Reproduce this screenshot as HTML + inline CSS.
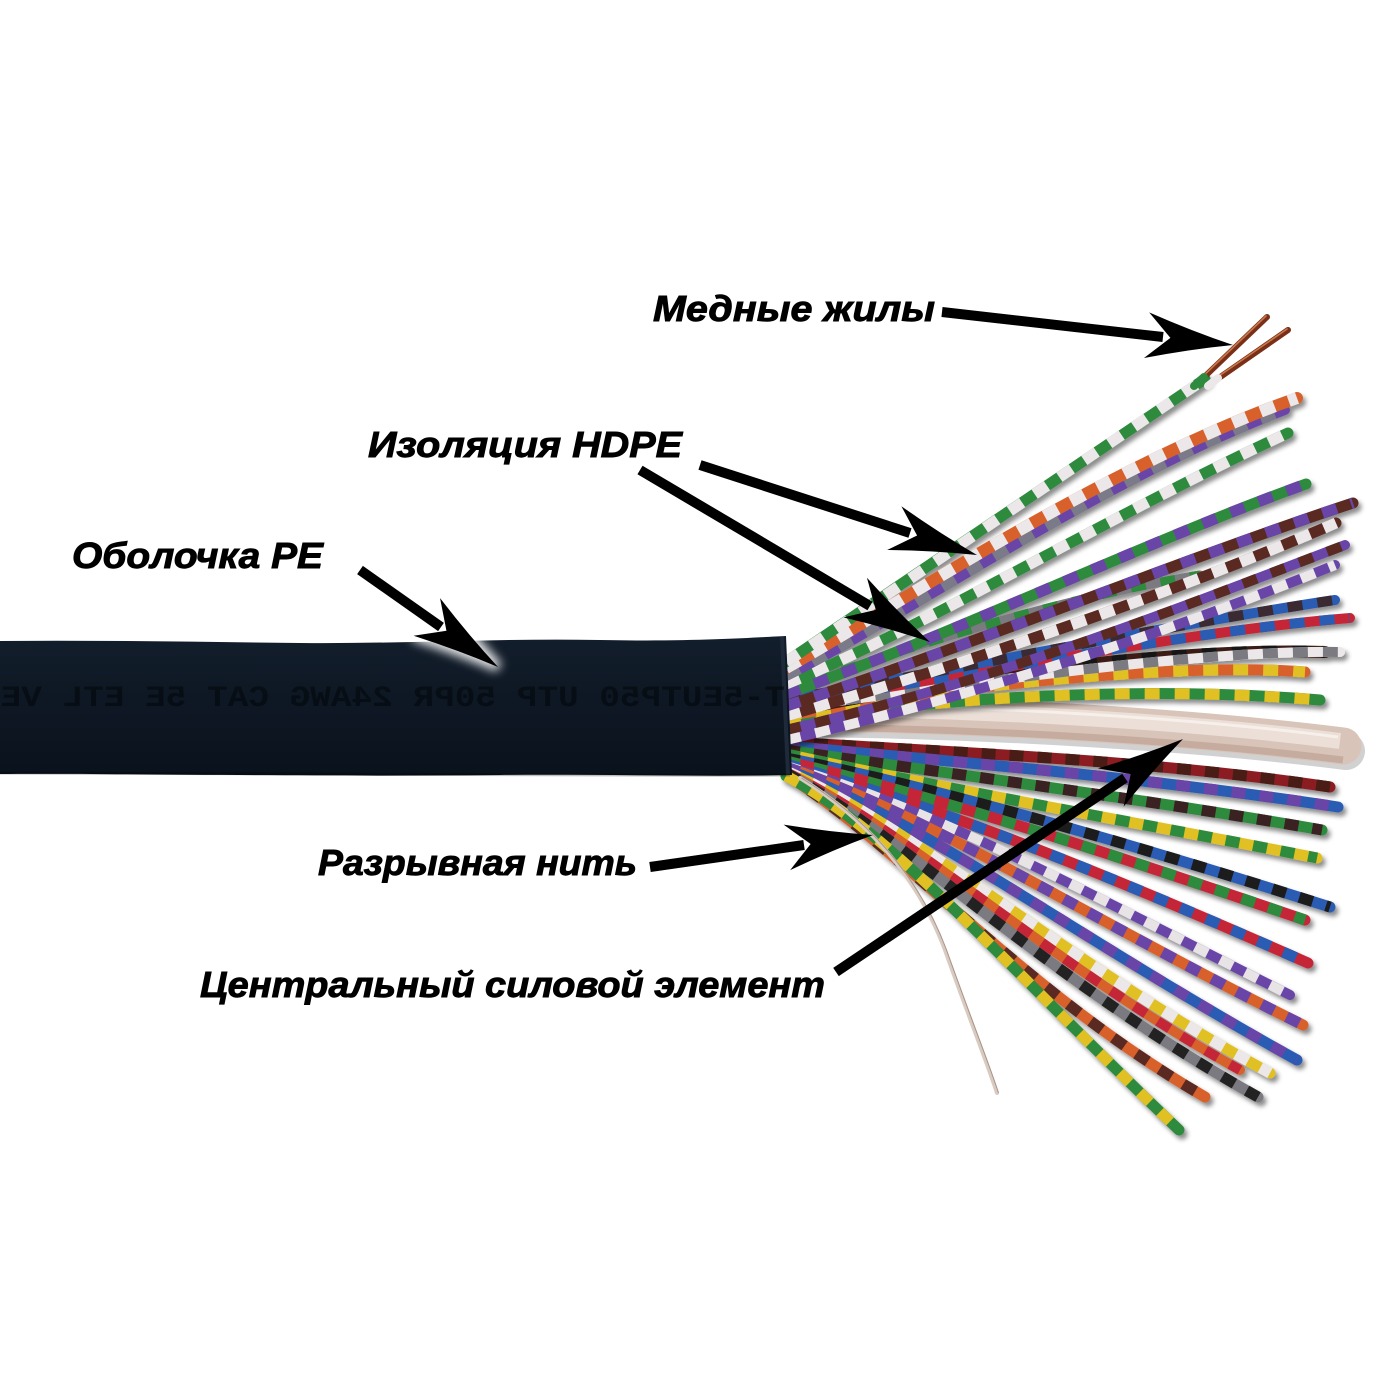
<!DOCTYPE html>
<html>
<head>
<meta charset="utf-8">
<style>
  html,body{margin:0;padding:0;background:#fff;}
  svg{display:block;}
  .lbl{font-family:"Liberation Sans",Arial,sans-serif;font-weight:bold;font-style:italic;font-size:36px;fill:#000;stroke:#000;stroke-width:0.9px;}
  .prn{font-family:"Liberation Mono",monospace;font-weight:bold;font-size:30px;fill:#020508;fill-opacity:.55;}
</style>
</head>
<body>
<svg width="1400" height="1400" viewBox="0 0 1400 1400" xmlns="http://www.w3.org/2000/svg">
<defs>
  <filter id="sh" x="-10%" y="-10%" width="120%" height="120%">
    <feDropShadow dx="3" dy="4" stdDeviation="2.5" flood-color="#000" flood-opacity=".45"/>
  </filter>
  <filter id="glow" x="-50%" y="-50%" width="200%" height="200%">
    <feGaussianBlur stdDeviation="5"/>
  </filter>
  <linearGradient id="jk" x1="0" y1="0" x2="0" y2="1">
    <stop offset="0" stop-color="#131e2c"/>
    <stop offset="0.35" stop-color="#0f1926"/>
    <stop offset="1" stop-color="#0a121c"/>
  </linearGradient>

  <!-- upper fan -->
  <path id="u1" d="M786,662 C880,600 1060,476 1205,379"/>
  <path id="u2" d="M786,668 C890,610 1100,468 1297,398"/>
  <path id="u3" d="M786,676 C900,620 1100,480 1285,410"/>
  <path id="u4" d="M786,684 C920,630 1120,510 1288,433"/>
  <path id="u5" d="M786,694 C940,640 1150,540 1306,484"/>
  <path id="u6" d="M786,706 C960,650 1180,560 1353,503"/>
  <path id="u7" d="M786,716 C980,660 1180,590 1336,523"/>
  <path id="u8" d="M786,730 C1000,680 1200,600 1345,545"/>
  <path id="u9" d="M786,740 C1000,690 1200,620 1335,565"/>
  <path id="u10" d="M786,700 C1000,660 1200,620 1335,600"/>
  <path id="u11" d="M786,704 C1000,670 1200,630 1350,618"/>
  <path id="u12" d="M786,708 C1000,680 1200,650 1340,652"/>
  <path id="u13" d="M786,712 C1000,668 1200,648 1325,652"/>
  <path id="u14" d="M786,716 C1000,678 1200,664 1305,672"/>
  <path id="u15" d="M786,722 C1000,688 1200,690 1320,700"/>
  <path id="u16" d="M786,690 C900,650 1050,600 1200,575"/>

  <!-- lower fan -->
  <path id="l1" d="M786,742 C950,752 1150,760 1330,787"/>
  <path id="l2" d="M786,746 C960,762 1150,778 1338,807"/>
  <path id="l3" d="M786,750 C960,775 1150,800 1322,830"/>
  <path id="l4" d="M786,754 C950,790 1150,825 1317,858"/>
  <path id="l5" d="M786,758 C950,790 1150,850 1330,907"/>
  <path id="l6" d="M786,761 C950,800 1130,860 1305,920"/>
  <path id="l7" d="M786,764 C950,810 1120,880 1308,963"/>
  <path id="l14" d="M786,766 C950,815 1100,900 1290,995"/>
  <path id="l8" d="M786,767 C940,820 1090,920 1303,1025"/>
  <path id="l9" d="M786,769 C930,825 1080,940 1297,1060"/>
  <path id="l10" d="M786,771 C920,830 1060,960 1270,1073"/>
  <path id="l15" d="M786,772 C915,835 1050,965 1240,1070"/>
  <path id="l11" d="M786,773 C910,840 1040,975 1258,1097"/>
  <path id="l12" d="M786,775 C900,845 1020,990 1205,1097"/>
  <path id="l13" d="M786,776 C890,830 1000,960 1179,1130"/>

  <path id="ah" d="M0,0 Q-42,-9 -87,-23 L-63,0 L-87,23 Q-42,9 0,0Z"/>
</defs>

<rect width="1400" height="1400" fill="#fff"/>

<!-- LOWER FAN -->
<g fill="none" filter="url(#sh)">
  <g stroke-linecap="round">
  <use href="#l1" stroke="#8a1e22" stroke-width="11"/>
  </g>
  <use href="#l1" stroke="#4a1c18" stroke-width="11" stroke-dasharray="14 14"/>
  <use href="#l2" stroke="#2a5cb4" stroke-width="11" stroke-linecap="round"/>
  <use href="#l2" stroke="#6a44a8" stroke-width="11" stroke-dasharray="14 14"/>
  <use href="#l3" stroke="#2d8a3e" stroke-width="11" stroke-linecap="round"/>
  <use href="#l3" stroke="#3a2220" stroke-width="11" stroke-dasharray="14 14"/>
  <use href="#l4" stroke="#e0c022" stroke-width="11" stroke-linecap="round"/>
  <use href="#l4" stroke="#2e8a3c" stroke-width="11" stroke-dasharray="14 14"/>
  <use href="#l5" stroke="#2a5cb4" stroke-width="11" stroke-linecap="round"/>
  <use href="#l5" stroke="#1c1c1e" stroke-width="11" stroke-dasharray="14 14"/>
  <use href="#l6" stroke="#c42838" stroke-width="11" stroke-linecap="round"/>
  <use href="#l6" stroke="#2d8a3e" stroke-width="11" stroke-dasharray="14 14"/>
  <use href="#l7" stroke="#c42838" stroke-width="11" stroke-linecap="round"/>
  <use href="#l7" stroke="#2a5cb4" stroke-width="11" stroke-dasharray="14 14"/>
  <use href="#l14" stroke="#6a44a8" stroke-width="10" stroke-linecap="round"/>
  <use href="#l14" stroke="#e8e4e6" stroke-width="10" stroke-dasharray="14 14"/>
  <use href="#l8" stroke="#d8602a" stroke-width="11" stroke-linecap="round"/>
  <use href="#l8" stroke="#6a44a8" stroke-width="11" stroke-dasharray="14 14"/>
  <use href="#l9" stroke="#2a5cb4" stroke-width="11" stroke-linecap="round"/>
  <use href="#l9" stroke="#6a44a8" stroke-width="11" stroke-dasharray="14 14"/>
  <use href="#l10" stroke="#e0c022" stroke-width="11" stroke-linecap="round"/>
  <use href="#l10" stroke="#ece8ea" stroke-width="11" stroke-dasharray="14 14"/>
  <use href="#l15" stroke="#d8602a" stroke-width="10" stroke-linecap="round"/>
  <use href="#l15" stroke="#c42838" stroke-width="10" stroke-dasharray="14 14"/>
  <use href="#l11" stroke="#7a7a80" stroke-width="11" stroke-linecap="round"/>
  <use href="#l11" stroke="#222" stroke-width="11" stroke-dasharray="14 14"/>
  <use href="#l12" stroke="#d8602a" stroke-width="11" stroke-linecap="round"/>
  <use href="#l12" stroke="#5a2a22" stroke-width="11" stroke-dasharray="14 14"/>
  <use href="#l13" stroke="#2d8a3e" stroke-width="11" stroke-linecap="round"/>
  <use href="#l13" stroke="#e0c022" stroke-width="11" stroke-dasharray="14 14"/>
</g>

<!-- tear thread -->
<path d="M800,778 C860,815 915,870 945,950 C970,1020 988,1065 997,1093" fill="none" stroke="#d9cbc2" stroke-width="4" stroke-linecap="round"/>
<path d="M800,778 C860,815 915,870 945,950 C970,1020 988,1065 997,1093" fill="none" stroke="#a89488" stroke-width="1" transform="translate(1.5,0)"/>

<!-- CENTRAL STRENGTH ELEMENT (tube) -->
<g fill="none">
  <path d="M800,713 C1000,715 1200,728 1343,746" stroke="#000" stroke-opacity=".18" stroke-width="38" stroke-linecap="round" transform="translate(3,5)"/>
  <path d="M800,713 C1000,715 1200,728 1343,746" stroke="#d9c4b9" stroke-width="37" stroke-linecap="round"/>
  <path d="M800,713 C1000,715 1200,728 1343,746" stroke="#c6ac9f" stroke-width="7" transform="translate(0,14)"/>
  <path d="M800,713 C1000,715 1200,728 1340,746" stroke="#ebdfd7" stroke-width="16" transform="translate(0,-5)"/>
  <path d="M800,713 C1000,715 1200,728 1338,746" stroke="#f7efea" stroke-width="3" transform="translate(0,-9)"/>
</g>

<!-- UPPER FAN -->
<g fill="none" filter="url(#sh)">
  <use href="#u15" stroke="#2d8a3e" stroke-width="11" stroke-linecap="round"/>
  <use href="#u15" stroke="#e0c022" stroke-width="11" stroke-dasharray="15 15"/>
  <use href="#u14" stroke="#d8602a" stroke-width="11" stroke-linecap="round"/>
  <use href="#u14" stroke="#e0c022" stroke-width="11" stroke-dasharray="15 15"/>
  <use href="#u13" stroke="#3a1e18" stroke-width="12" stroke-linecap="round"/>
  <use href="#u13" stroke="#151515" stroke-width="12" stroke-dasharray="15 15"/>
  <use href="#u12" stroke="#ece8ea" stroke-width="10" stroke-linecap="round"/>
  <use href="#u12" stroke="#7a7a80" stroke-width="10" stroke-dasharray="15 15"/>
  <use href="#u11" stroke="#c42838" stroke-width="10" stroke-linecap="round"/>
  <use href="#u11" stroke="#2a5cb4" stroke-width="10" stroke-dasharray="15 15"/>
  <use href="#u10" stroke="#2a5cb4" stroke-width="10" stroke-linecap="round"/>
  <use href="#u10" stroke="#3a2a30" stroke-width="10" stroke-dasharray="15 15"/>
  <use href="#u16" stroke="#7a7a80" stroke-width="9" stroke-linecap="round"/>
  <use href="#u16" stroke="#2d8a3e" stroke-width="9" stroke-dasharray="15 15"/>
  <use href="#u5" stroke="#2d8a3e" stroke-width="11" stroke-linecap="round"/>
  <use href="#u5" stroke="#6a44a8" stroke-width="11" stroke-dasharray="15 15"/>
  <use href="#u4" stroke="#2d8a3e" stroke-width="11" stroke-linecap="round"/>
  <use href="#u4" stroke="#ece8ea" stroke-width="11" stroke-dasharray="15 15"/>
  <use href="#u3" stroke="#6a44a8" stroke-width="10" stroke-linecap="round"/>
  <use href="#u3" stroke="#7a7a88" stroke-width="10" stroke-dasharray="15 15"/>
  <use href="#u2" stroke="#d8602a" stroke-width="12" stroke-linecap="round"/>
  <use href="#u2" stroke="#ece8ea" stroke-width="12" stroke-dasharray="15 15"/>
  <use href="#u1" stroke="#2d8a3e" stroke-width="11" stroke-linecap="round"/>
  <use href="#u1" stroke="#ece8ea" stroke-width="11" stroke-dasharray="15 15"/>
  <use href="#u9" stroke="#6a44a8" stroke-width="10" stroke-linecap="round"/>
  <use href="#u9" stroke="#ece8ea" stroke-width="10" stroke-dasharray="15 15"/>
  <use href="#u8" stroke="#6a44a8" stroke-width="10" stroke-linecap="round"/>
  <use href="#u8" stroke="#5a2a22" stroke-width="10" stroke-dasharray="15 15"/>
  <use href="#u7" stroke="#5a2a22" stroke-width="11" stroke-linecap="round"/>
  <use href="#u7" stroke="#ece8ea" stroke-width="11" stroke-dasharray="15 15"/>
  <use href="#u6" stroke="#5a2a22" stroke-width="11" stroke-linecap="round"/>
  <use href="#u6" stroke="#6a44a8" stroke-width="11" stroke-dasharray="15 15"/>
</g>

<!-- copper cores -->
<g stroke-linecap="round">
  <line x1="1200" y1="381" x2="1267" y2="317" stroke="#7a3018" stroke-width="6"/>
  <line x1="1200" y1="379" x2="1266" y2="316" stroke="#c8784a" stroke-width="1.6"/>
  <line x1="1216" y1="380" x2="1288" y2="330" stroke="#7a3018" stroke-width="6"/>
  <line x1="1216" y1="378" x2="1287" y2="329" stroke="#c8784a" stroke-width="1.6"/>
  <line x1="1194" y1="386" x2="1204" y2="377" stroke="#2d8a3e" stroke-width="8"/>
  <line x1="1208" y1="386" x2="1218" y2="378" stroke="#ece8ea" stroke-width="8"/>
</g>

<!-- JACKET -->
<path d="M0,641 C100,640 200,642 300,643 C400,644 500,638 600,640 C700,642 760,637 786,636 L792,775 C700,777 600,774 500,775 C300,777 100,773 0,774 Z" fill="url(#jk)"/>
<path d="M782,637 L788,775" stroke="#1e2a3a" stroke-width="4"/>
<path d="M0,773 C200,775 500,776 790,775" stroke="#000" stroke-opacity=".25" stroke-width="3" fill="none"/>
<text class="prn" transform="translate(785,0) scale(-1,1)" x="0" y="706" textLength="805" lengthAdjust="spacingAndGlyphs">T-5EUTP50 UTP 50PR 24AWG CAT 5E ETL VER</text>

<!-- ARROWS -->
<g opacity=".9" filter="url(#glow)">
  <use href="#ah" fill="#fff" stroke="#fff" stroke-width="10" transform="translate(498,667) rotate(35.1)"/>
</g>
<g stroke="#000" stroke-width="10" fill="none">
  <line x1="942" y1="312" x2="1163" y2="337"/>
  <line x1="700" y1="465" x2="910" y2="533"/>
  <line x1="640" y1="470" x2="870" y2="606"/>
  <line x1="360" y1="570" x2="441" y2="627"/>
  <line x1="650" y1="867" x2="804" y2="845"/>
  <line x1="836" y1="972" x2="1125" y2="778"/>
</g>
<g fill="#000">
  <use href="#ah" transform="translate(1233,345) rotate(6.47)"/>
  <use href="#ah" transform="translate(977,555) rotate(18)"/>
  <use href="#ah" transform="translate(930,642) rotate(30.7)"/>
  <use href="#ah" transform="translate(498,667) rotate(35.1)"/>
  <use href="#ah" transform="translate(873,835) rotate(-8.17)"/>
  <use href="#ah" transform="translate(1183,739) rotate(-33.9)"/>
</g>

<!-- LABELS -->
<text class="lbl" x="653" y="321" textLength="282" lengthAdjust="spacingAndGlyphs">Медные жилы</text>
<text class="lbl" x="368" y="457" textLength="314" lengthAdjust="spacingAndGlyphs">Изоляция HDPE</text>
<text class="lbl" x="72" y="568" textLength="251" lengthAdjust="spacingAndGlyphs">Оболочка PE</text>
<text class="lbl" x="318" y="875" textLength="319" lengthAdjust="spacingAndGlyphs">Разрывная нить</text>
<text class="lbl" x="200" y="997" textLength="625" lengthAdjust="spacingAndGlyphs">Центральный силовой элемент</text>
</svg>
</body>
</html>
